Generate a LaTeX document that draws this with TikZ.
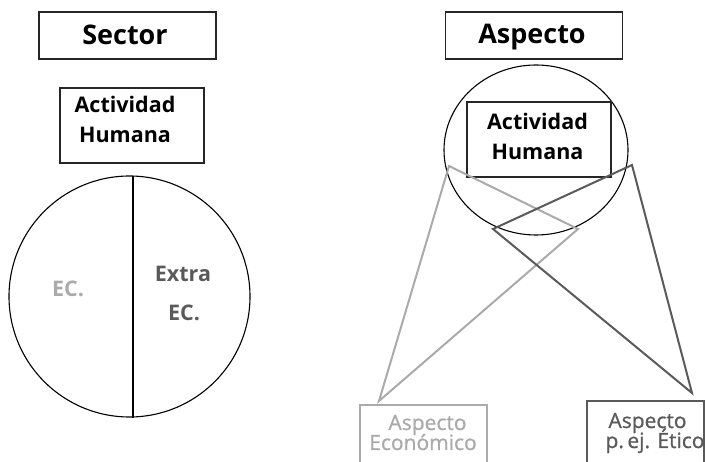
\documentclass[tikz,border=0pt]{standalone}
\usepackage{fontspec}
\setmainfont{Open Sans}
\newfontfamily\smallfont[FakeBold=0.9]{Open Sans}
\usetikzlibrary{shapes.geometric}
\definecolor{lightg}{HTML}{AAAAAA}
\definecolor{darkg}{HTML}{5A5A5A}
\begin{document}
\begin{tikzpicture}[x=1pt,y=-1pt,
  titlebox/.style={draw=black!85,line width=1.1pt,minimum width=177pt,minimum height=47pt,inner sep=0pt},
  actbox/.style={draw=black!85,line width=1.1pt,minimum width=144pt,minimum height=75pt,inner sep=0pt},
  txt/.style={inner sep=0pt,anchor=base},
  ttl/.style={txt,font=\fontsize{27}{30}\selectfont\bfseries},
  act/.style={txt,font=\fontsize{21.5}{24}\selectfont\bfseries},
  small/.style={txt,font=\smallfont\fontsize{21}{22}\selectfont},
  circ/.style={draw=black,line width=1.1pt,inner sep=0pt},
  glight/.style={draw=lightg,line width=2pt,line join=miter},
  gdark/.style={draw=darkg,line width=2pt,line join=miter}]
\useasboundingbox (0,0) rectangle (705,462);
% titles
\node[titlebox] (sector) at (127.5,35.5) {};
\node[ttl] (sectorT) at (125,45) {Sector};
\node[titlebox] (aspecto) at (534,35.5) {};
\node[ttl] (aspectoT) at (532,44) {Aspecto};
% left side
\node[actbox] (actL) at (132,125.5) {};
\node[act] (actL1) at (125,113) {Actividad};
\node[act] (actL2) at (125,143) {Humana};
\node[circ,circle,minimum size=241pt] (cL) at (129.5,296.5) {};
\draw[line width=1.1pt] (cL.north) ++(3.5,0.3) coordinate (vt) -- (vt |- cL.south);
\node[act,text=lightg] (ec) at (68,297) {EC.};
\node[act,text=darkg] (extra1) at (183,282) {Extra};
\node[act,text=darkg] (extra2) at (184,321) {EC.};
% right side
\node[circ,ellipse,minimum width=184pt,minimum height=170pt] (cR) at (536,150) {};
\node[actbox] (actR) at (539,139.5) {};
\node[act] (actR1) at (537.5,130) {Actividad};
\node[act] (actR2) at (537.5,160) {Humana};
\coordinate (la) at (449,166);
\coordinate (lb) at (578,229);
\coordinate (da) at (632,165);
\coordinate (db) at (493,229);
\node[small,text=lightg] (econ1) at (427.5,430) {Aspecto};
\node[small,text=lightg] (econ2) at (423,450) {Económico};
\node[small,text=darkg] (etico1) at (647.5,428) {Aspecto};
\node[small,text=darkg] (etico2) at (655,448) {p.\,ej. Ético};
\coordinate (econtop) at (379,401);
\coordinate (eticotop) at (692,393);
\draw[glight] (360,463) -- (360,405) -- (487,405) -- (487,463);
\draw[gdark] (587,463) -- (587,401) -- (704,401) -- (704,463);
\draw[glight] (econtop) -- (la) -- (lb) -- cycle;
\draw[gdark] (eticotop) -- (da) -- (db) -- cycle;
\end{tikzpicture}
\end{document}
